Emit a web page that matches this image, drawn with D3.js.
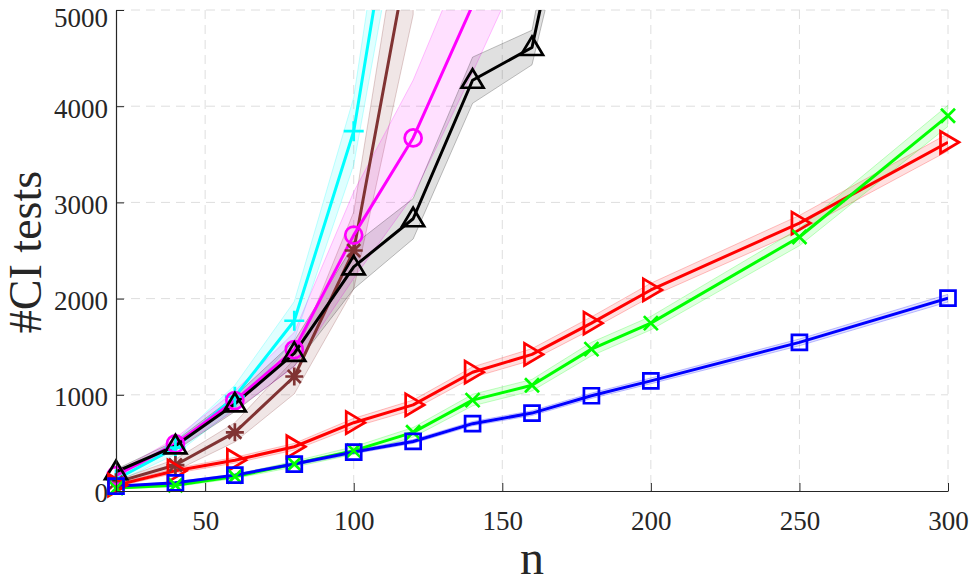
<!DOCTYPE html>
<html>
<head>
<meta charset="utf-8">
<script src="https://cdn.jsdelivr.net/npm/d3@7"></script>
<style>
  body { margin: 0; background: #fff; }
  text { font-family: "Liberation Serif", "Times New Roman", serif; fill: #262626; }
  .tick text { font-family: "Liberation Serif", "Times New Roman", serif !important; }
</style>
</head>
<body>
<svg id="chart"></svg>
<script>
// sample sizes
const nValues = [20, 40, 60, 80, 100, 120, 140, 160, 180, 200, 250, 300];

// mean number of CI tests per method
const blueMean = [50, 85, 165, 280, 405, 515, 700, 810, 990, 1145, 1545, 2005];
const blueSpread = [8, 10, 12, 15, 18, 20, 22, 25, 28, 30, 35, 40];
const greenMean = [30, 60, 150, 280, 420, 610, 945, 1100, 1475, 1745, 2640, 3900];
const greenSpread = [10, 15, 20, 30, 40, 50, 60, 60, 70, 70, 90, 110];
const redMean = [60, 210, 320, 460, 710, 895, 1235, 1420, 1745, 2090, 2785, 3625];
const redSpread = [15, 25, 30, 35, 45, 50, 55, 60, 65, 70, 80, 90];
const brownMean = [90, 270, 610, 1190, 2500, 5850];
const brownSpread = [20, 60, 100, 180, 400, 900];
const cyanMean = [120, 450, 980, 1770, 3740, 7500];
const cyanSpread = [30, 70, 120, 200, 350, 700];
const magentaMean = [160, 490, 940, 1470, 2660, 3670, 5050, 6500];
const magentaSpread = [30, 60, 100, 180, 450, 600, 700, 800];
const blackMean = [200, 470, 905, 1430, 2330, 2830, 4270, 4610, 7500];
const blackSpread = [25, 50, 80, 130, 230, 210, 240, 180, 500];

const xTicks = [50, 100, 150, 200, 250, 300];
const yTicks = [0, 1000, 2000, 3000, 4000, 5000];

const series = [
    { color: '#00ffff', marker: 'plus', mean: cyanMean, spread: cyanSpread },
    { color: '#803333', marker: 'asterisk', mean: brownMean, spread: brownSpread },
    { color: '#ff00ff', marker: 'circle', mean: magentaMean, spread: magentaSpread },
    { color: '#000000', marker: 'triUp', mean: blackMean, spread: blackSpread },
    { color: '#ff0000', marker: 'triRight', mean: redMean, spread: redSpread },
    { color: '#00ff00', marker: 'cross', mean: greenMean, spread: greenSpread },
    { color: '#0000ff', marker: 'square', mean: blueMean, spread: blueSpread }
];

const width = 969, height = 583;
const margin = { top: 10, right: 21, bottom: 92, left: 116 };
const innerW = width - margin.left - margin.right;
const innerH = height - margin.top - margin.bottom;

const svg = d3.select('#chart')
    .attr('width', width)
    .attr('height', height);

const x = d3.scaleLinear().domain([20, 300]).range([0, innerW]);
const y = d3.scaleLinear().domain([0, 5000]).range([innerH, 0]);

const g = svg.append('g')
    .attr('transform', 'translate(' + margin.left + ',' + margin.top + ')');

svg.append('defs').append('clipPath')
    .attr('id', 'plotClip')
    .append('rect')
    .attr('x', 0).attr('y', 0)
    .attr('width', innerW).attr('height', innerH);

// dashed grid
g.append('g').selectAll('line')
    .data(xTicks)
    .enter().append('line')
    .attr('x1', d => x(d)).attr('x2', d => x(d))
    .attr('y1', 0).attr('y2', innerH)
    .attr('stroke', '#dedede')
    .attr('stroke-dasharray', '9,6');
g.append('g').selectAll('line')
    .data(yTicks.filter(d => d > 0))
    .enter().append('line')
    .attr('x1', 0).attr('x2', innerW)
    .attr('y1', d => y(d)).attr('y2', d => y(d))
    .attr('stroke', '#dedede')
    .attr('stroke-dasharray', '9,6');

// bands and lines
const plot = g.append('g').attr('clip-path', 'url(#plotClip)');

series.forEach(s => {
    let pts = s.mean.map((m, i) => ({ n: nValues[i], m: m, sp: s.spread[i] }));
    let area = d3.area()
        .x(d => x(d.n))
        .y0(d => y(d.m - d.sp))
        .y1(d => y(d.m + d.sp));
    plot.append('path')
        .datum(pts)
        .attr('d', area)
        .attr('fill', s.color)
        .attr('fill-opacity', 0.12)
        .attr('stroke', s.color)
        .attr('stroke-opacity', 0.3)
        .attr('stroke-width', 0.8);
});

series.forEach(s => {
    let pts = s.mean.map((m, i) => ({ n: nValues[i], m: m }));
    let line = d3.line()
        .x(d => x(d.n))
        .y(d => y(d.m));
    plot.append('path')
        .datum(pts)
        .attr('d', line)
        .attr('fill', 'none')
        .attr('stroke', s.color)
        .attr('stroke-width', 3)
        .attr('stroke-linejoin', 'round');
});

// marker shapes, centred on the data point
const markerPaths = {
    plus: 'M-10,0H10M0,-10V10',
    cross: 'M-7,-7L7,7M-7,7L7,-7',
    asterisk: 'M-9,0H9M0,-9V9M-6.5,-6.5L6.5,6.5M-6.5,6.5L6.5,-6.5',
    square: 'M-7.5,-7.5H7.5V7.5H-7.5Z',
    triUp: 'M0,-11L11,7.5L-11,7.5Z',
    triRight: 'M11,0L-7.5,-11L-7.5,11Z',
    circle: 'M8.5,0A8.5,8.5 0 1,1 -8.5,0A8.5,8.5 0 1,1 8.5,0Z'
};

series.forEach(s => {
    let pts = s.mean.map((m, i) => ({ n: nValues[i], m: m }))
        .filter(d => d.m <= 5000);
    g.append('g').selectAll('path')
        .data(pts)
        .enter().append('path')
        .attr('transform', d => 'translate(' + x(d.n) + ',' + y(d.m) + ')')
        .attr('d', markerPaths[s.marker])
        .attr('fill', 'none')
        .attr('stroke', s.color)
        .attr('stroke-width', 2.7);
});

// axes, MATLAB style: ticks pointing inwards, no box
const xAxis = g.append('g')
    .call(d3.axisBottom(x).tickValues(xTicks).tickFormat(d3.format('d'))
        .tickSizeInner(-8).tickSizeOuter(0).tickPadding(20))
    .attr('transform', 'translate(0,' + innerH + ')');
const yAxis = g.append('g')
    .call(d3.axisLeft(y).tickValues(yTicks).tickFormat(d3.format('d'))
        .tickSizeInner(-8).tickSizeOuter(0).tickPadding(8));

[xAxis, yAxis].forEach(a => {
    a.attr('font-family', '"Liberation Serif", serif');
    a.select('.domain').attr('stroke', '#262626').attr('stroke-width', 1.2);
    a.selectAll('.tick line').attr('stroke', '#262626');
    a.selectAll('.tick text')
        .attr('font-size', 27)
        .attr('fill', '#262626');
});
// labels sit a touch below their tick; the top one is kept inside the page
yAxis.selectAll('.tick text').attr('dy', d => d === 5000 ? '0.6em' : '0.4em');

svg.append('text')
    .attr('x', margin.left + innerW / 2)
    .attr('y', 574)
    .attr('text-anchor', 'middle')
    .attr('font-size', 48)
    .text('n');

svg.append('text')
    .attr('transform', 'translate(41,' + 252 + ') rotate(-90)')
    .attr('text-anchor', 'middle')
    .attr('font-size', 46)
    .text('#CI tests');
</script>
</body>
</html>
